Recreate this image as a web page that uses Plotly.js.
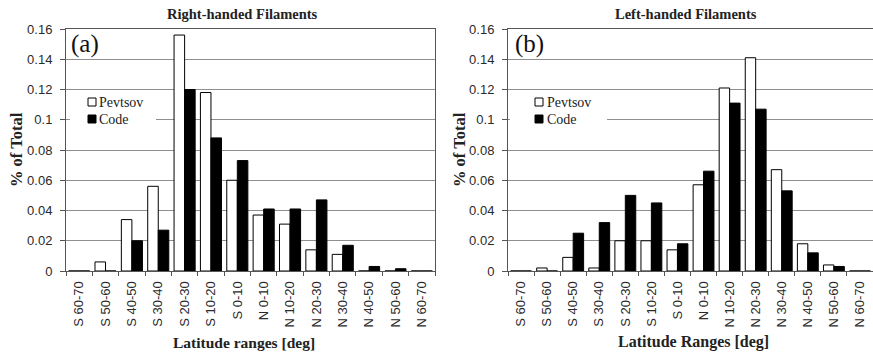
<!DOCTYPE html>
<html>
<head>
<meta charset="utf-8">
<script src="https://cdn.plot.ly/plotly-3.0.1.min.js"></script>
<style>html,body{margin:0;padding:0;background:#fff;}#chart{width:873px;height:354px;}</style>
</head>
<body>
<div id="chart"></div>
<script>
// ---- data ----
const categories = ["S 60-70","S 50-60","S 40-50","S 30-40","S 20-30","S 10-20","S 0-10",
                    "N 0-10","N 10-20","N 20-30","N 30-40","N 40-50","N 50-60","N 60-70"];
const rightPevtsov = [0, 0.006, 0.034, 0.056, 0.156, 0.118, 0.060, 0.037, 0.031, 0.014, 0.011, 0, 0, 0];
const rightCode    = [0, 0, 0.020, 0.027, 0.120, 0.088, 0.073, 0.041, 0.041, 0.047, 0.017, 0.003, 0.0015, 0];
const leftPevtsov  = [0, 0.002, 0.009, 0.002, 0.020, 0.020, 0.014, 0.057, 0.121, 0.141, 0.067, 0.018, 0.004, 0];
const leftCode     = [0, 0, 0.025, 0.032, 0.050, 0.045, 0.018, 0.066, 0.111, 0.107, 0.053, 0.012, 0.003, 0];
const seriesNames = ["Pevtsov", "Code"];
const panelTitles = ["Right-handed Filaments", "Left-handed Filaments"];
const xTitles = ["Latitude ranges [deg]", "Latitude Ranges [deg]"];
const yTitle = "% of Total";
const panelLabels = ["(a)", "(b)"];

// ---- helpers for layout placement (pixels -> paper) ----
const W = 873, H = 354;
const px = x => x / W;
const py = y => 1 - y / H;

const whiteBar = {color: "#ffffff", line: {color: "#000000", width: 1}};
const blackBar = {color: "#000000", line: {color: "#000000", width: 1}};

const traces = [
  {type: "bar", x: categories, y: rightPevtsov, name: seriesNames[0], marker: whiteBar, xaxis: "x", yaxis: "y", showlegend: false, hoverinfo: "skip"},
  {type: "bar", x: categories, y: rightCode, name: seriesNames[1], marker: blackBar, xaxis: "x", yaxis: "y", showlegend: false, hoverinfo: "skip"},
  {type: "bar", x: categories, y: leftPevtsov, name: seriesNames[0], marker: whiteBar, xaxis: "x2", yaxis: "y2", showlegend: false, hoverinfo: "skip"},
  {type: "bar", x: categories, y: leftCode, name: seriesNames[1], marker: blackBar, xaxis: "x2", yaxis: "y2", showlegend: false, hoverinfo: "skip"}
];

const tickFont = {family: "'Liberation Sans', Arial, sans-serif", size: 13, color: "#2a2a2a"};
const serif = "'Liberation Serif', 'Times New Roman', serif";

function xAxis(domain, anchor) {
  return {
    domain: domain, anchor: anchor, type: "category",
    tickangle: -90, tickfont: tickFont,
    ticks: "outside", ticklen: 4, tickcolor: "#555555", tickson: "boundaries",
    ticklabelstandoff: 4,
    showline: true, linecolor: "#555555", linewidth: 1, mirror: true,
    showgrid: false, zeroline: false, fixedrange: true
  };
}
function yAxis(domain, anchor) {
  return {
    domain: domain, anchor: anchor, range: [0, 0.16], dtick: 0.02, tick0: 0,
    tickfont: tickFont, ticks: "outside", ticklen: 5, tickcolor: "#555555",
    ticklabelstandoff: 5,
    showline: true, linecolor: "#555555", linewidth: 1, mirror: true,
    showgrid: true, gridcolor: "#8f8f8f", gridwidth: 1,
    zeroline: false, fixedrange: true
  };
}

const yDom = [py(271), py(29)];

const shapes = [];
const annotations = [];

// legends (drawn as keys + text)
const legendDefs = [
  {boxX0: 70, boxX1: 156, sqX: 88, textX: 97},
  {boxX0: 510, boxX1: 607, sqX: 535, textX: 545}
];
legendDefs.forEach(function (d) {
  shapes.push({type: "rect", xref: "paper", yref: "paper", x0: px(d.boxX0), x1: px(d.boxX1), y0: py(93), y1: py(128),
               fillcolor: "#ffffff", line: {width: 0}, layer: "above"});
  shapes.push({type: "rect", xref: "paper", yref: "paper", x0: px(d.sqX), x1: px(d.sqX + 8), y0: py(98), y1: py(106),
               fillcolor: "#ffffff", line: {color: "#000000", width: 1}, layer: "above"});
  shapes.push({type: "rect", xref: "paper", yref: "paper", x0: px(d.sqX), x1: px(d.sqX + 8), y0: py(115), y1: py(123),
               fillcolor: "#000000", line: {color: "#000000", width: 1}, layer: "above"});
  annotations.push({xref: "paper", yref: "paper", x: px(d.textX), y: py(102), xanchor: "left", yanchor: "middle",
                    text: seriesNames[0], showarrow: false, font: {family: serif, size: 14, color: "#222222"}});
  annotations.push({xref: "paper", yref: "paper", x: px(d.textX), y: py(119), xanchor: "left", yanchor: "middle",
                    text: seriesNames[1], showarrow: false, font: {family: serif, size: 14, color: "#222222"}});
});

// titles
const titleX = [242, 686];
const xTitleX = [244, 693];
const xTitleSize = [15.5, 16];
const yTitleX = [16, 459];
const labelX = [85, 529];
for (let i = 0; i < 2; i++) {
  annotations.push({xref: "paper", yref: "paper", x: px(titleX[i]), y: py(14), xanchor: "center", yanchor: "middle",
                    text: "<b>" + panelTitles[i] + "</b>", showarrow: false, font: {family: serif, size: 14.5, color: "#222222"}});
  annotations.push({xref: "paper", yref: "paper", x: px(xTitleX[i]), y: py(342), xanchor: "center", yanchor: "middle",
                    text: "<b>" + xTitles[i] + "</b>", showarrow: false, font: {family: serif, size: xTitleSize[i], color: "#222222"}});
  annotations.push({xref: "paper", yref: "paper", x: px(yTitleX[i]), y: py(150), xanchor: "center", yanchor: "middle",
                    text: "<b>" + yTitle + "</b>", textangle: -90, showarrow: false, font: {family: serif, size: 16.5, color: "#222222"}});
  annotations.push({xref: "paper", yref: "paper", x: px(labelX[i]), y: py(44), xanchor: "center", yanchor: "middle",
                    text: panelLabels[i], showarrow: false, font: {family: serif, size: 25, color: "#111111"}});
}

const layout = {
  width: W, height: H,
  margin: {l: 0, r: 0, t: 0, b: 0, pad: 0},
  paper_bgcolor: "#ffffff", plot_bgcolor: "#ffffff",
  barmode: "group", bargap: 0.2, bargroupgap: 0,
  showlegend: false,
  xaxis: xAxis([px(66), px(435)], "y"),
  yaxis: yAxis(yDom, "x"),
  xaxis2: xAxis([px(508), 1], "y2"),
  yaxis2: yAxis(yDom, "x2"),
  shapes: shapes,
  annotations: annotations
};

Plotly.newPlot("chart", traces, layout, {displayModeBar: false, staticPlot: true});
</script>
</body>
</html>
